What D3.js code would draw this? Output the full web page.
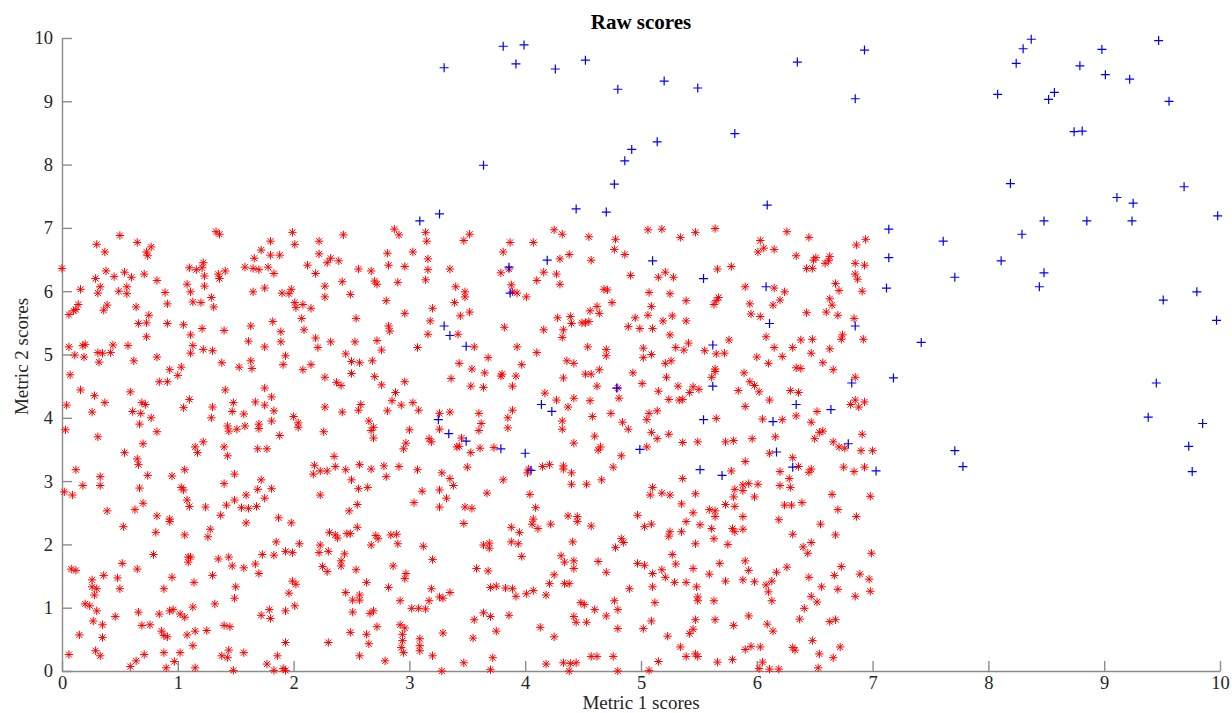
<!DOCTYPE html>
<html>
<head>
<meta charset="utf-8">
<script src="https://cdn.jsdelivr.net/npm/d3@7"></script>
<style>
  html, body { margin: 0; padding: 0; background: #fff; }
  svg { display: block; }
  .axis path, .axis line { stroke: #8c8c8c; stroke-width: 1.4px; }
  .axis text { font-family: "Liberation Serif", "Times New Roman", serif; font-size: 18.5px; fill: #262626; }
  .label { font-family: "Liberation Serif", "Times New Roman", serif; font-size: 19px; fill: #262626; }
  .title { font-family: "Liberation Serif", "Times New Roman", serif; font-size: 21px; font-weight: bold; fill: #000; }
</style>
</head>
<body>
<div id="chart"></div>
<script>
// Tick values for both axes
const xTicks = [0, 1, 2, 3, 4, 5, 6, 7, 8, 9, 10];
const yTicks = [0, 1, 2, 3, 4, 5, 6, 7, 8, 9, 10];

// Scores that fall inside the 0–7 box on both metrics (red asterisks)
const redScores = [
  [1.33,6.94],[1.36,6.90],[1.99,6.93],[0.50,6.88],[0.30,6.74],[0.65,6.77],[1.80,6.79],[2.01,6.74],[2.22,6.79],[0.77,6.70],[0.73,6.62],[0.74,6.56],[0.37,6.62],[1.72,6.65],[1.80,6.57],[1.88,6.57],[2.22,6.59],[1.66,6.52],[0.00,6.36],[1.10,6.37],[1.16,6.34],[1.21,6.37],[1.22,6.45],[1.58,6.38],[1.65,6.36],[1.70,6.34],[1.78,6.38],[1.83,6.28],[2.12,6.41],[0.38,6.32],[0.45,6.23],[0.54,6.30],[0.60,6.22],[0.71,6.27],[0.29,6.20],[0.82,6.17],[1.23,6.24],[1.35,6.27],[1.36,6.20],[1.41,6.32],[2.19,6.28],[1.08,6.11],[1.23,6.08],[0.33,6.07],[0.31,5.97],[0.16,6.03],[0.49,6.00],[0.56,6.07],[0.56,5.96],[0.89,5.98],[1.11,5.99],[1.65,5.99],[1.75,6.05],[1.90,5.97],[1.96,5.96],[1.98,6.03],[2.27,6.08],[2.27,5.91],[1.29,5.90],[0.91,5.80],[1.13,5.83],[1.20,5.82],[1.31,5.75],[2.01,5.82],[2.02,5.74],[2.08,5.79],[2.15,5.73],[0.14,5.79],[0.12,5.71],[0.10,5.69],[0.06,5.63],[0.36,5.70],[0.39,5.78],[0.64,5.75],[0.75,5.62],[2.07,5.57],[0.66,5.49],[0.73,5.50],[0.91,5.49],[1.05,5.47],[1.21,5.41],[1.82,5.52],[1.63,5.45],[1.40,5.38],[1.89,5.36],[2.09,5.39],[1.11,5.31],[0.73,5.28],[1.61,5.21],[1.89,5.20],[2.19,5.26],[0.06,5.12],[0.18,5.14],[0.20,5.16],[0.44,5.15],[0.57,5.14],[1.13,5.14],[1.22,5.08],[1.30,5.06],[1.11,5.02],[1.75,5.12],[2.21,5.11],[0.11,4.99],[0.19,4.96],[0.31,5.03],[0.35,5.02],[0.42,5.03],[0.82,4.96],[1.93,4.98],[0.62,4.90],[0.32,4.88],[1.38,4.87],[1.63,4.90],[1.64,4.78],[1.53,4.80],[1.91,4.84],[2.15,4.84],[2.08,4.76],[0.93,4.76],[1.03,4.80],
  [2.43,6.89],[2.87,6.98],[2.91,6.89],[3.14,6.93],[3.15,6.79],[3.47,6.80],[3.52,6.90],[4.25,6.97],[4.32,6.90],[4.55,6.86],[3.87,6.77],[4.07,6.77],[3.81,6.62],[2.81,6.60],[3.03,6.62],[4.38,6.58],[2.32,6.52],[2.29,6.45],[2.39,6.48],[3.16,6.51],[2.82,6.41],[2.56,6.35],[2.67,6.32],[2.96,6.39],[3.16,6.34],[3.35,6.35],[4.30,6.51],[4.57,6.49],[3.79,6.29],[3.86,6.35],[4.10,6.17],[4.16,6.30],[4.27,6.27],[4.30,6.11],[2.42,6.15],[2.70,6.16],[2.72,6.11],[2.90,6.14],[3.14,6.18],[3.40,6.07],[3.48,5.99],[3.48,5.91],[3.39,5.82],[3.88,6.10],[3.89,5.99],[3.93,5.97],[4.01,5.91],[2.49,5.95],[2.80,5.85],[3.20,5.73],[3.52,5.67],[3.44,5.61],[2.96,5.65],[3.18,5.53],[4.56,5.69],[4.62,5.76],[4.64,5.65],[4.28,5.58],[4.39,5.60],[4.40,5.49],[4.49,5.50],[4.52,5.50],[4.55,5.52],[2.54,5.57],[3.82,5.43],[4.16,5.39],[4.33,5.39],[4.32,5.27],[2.82,5.45],[2.83,5.37],[3.16,5.32],[3.42,5.32],[2.32,5.20],[2.53,5.20],[2.72,5.22],[2.76,5.07],[3.07,5.11],[3.56,5.12],[3.93,5.12],[4.10,5.03],[4.54,5.12],[2.45,5.01],[3.68,4.95],[2.50,4.89],[2.57,4.87],[2.68,4.90],[4.36,4.90],[4.42,4.86],[3.43,4.86],[3.97,4.84],[3.54,4.77],[4.64,4.76],
  [5.06,6.97],[5.18,6.98],[5.34,6.85],[5.47,6.93],[5.64,6.99],[4.78,6.82],[4.77,6.66],[4.86,6.58],[6.26,6.94],[6.45,6.85],[6.03,6.80],[6.06,6.68],[6.01,6.62],[6.15,6.66],[6.86,6.73],[6.94,6.82],[6.34,6.56],[6.51,6.53],[6.49,6.49],[6.63,6.55],[6.62,6.48],[6.59,6.44],[6.85,6.44],[6.93,6.41],[6.43,6.36],[6.48,6.36],[5.66,6.35],[5.78,6.39],[4.91,6.25],[5.15,6.22],[5.21,6.30],[5.28,6.22],[6.85,6.27],[6.87,6.19],[6.68,6.12],[6.71,6.01],[4.68,6.03],[4.71,6.02],[5.90,6.07],[6.15,6.05],[6.24,5.99],[6.91,6.00],[5.07,5.98],[5.25,5.96],[5.67,5.90],[5.65,5.85],[5.63,5.79],[4.75,5.82],[5.39,5.85],[5.94,5.80],[6.14,5.78],[6.20,5.86],[6.63,5.88],[6.65,5.78],[5.09,5.76],[5.06,5.62],[4.95,5.58],[5.27,5.61],[5.95,5.64],[6.03,5.60],[6.43,5.66],[6.60,5.67],[6.70,5.62],[6.84,5.57],[5.19,5.53],[5.39,5.53],[4.89,5.44],[4.99,5.41],[5.10,5.41],[5.25,5.31],[6.08,5.28],[6.74,5.31],[6.73,5.24],[6.92,5.24],[5.76,5.23],[6.38,5.23],[6.48,5.24],[4.70,5.08],[4.70,4.98],[5.02,5.10],[5.02,4.95],[5.09,5.00],[5.30,5.11],[5.37,5.07],[5.41,5.18],[5.55,5.06],[5.65,5.01],[5.72,5.02],[6.15,5.11],[6.31,5.11],[6.47,5.02],[6.63,5.09],[6.00,4.96],[6.22,4.97],[5.21,4.86],[5.26,4.90],[6.10,4.86],[6.34,4.79],[6.38,4.78],[6.57,4.87],[6.66,4.76],[5.64,4.77],
  [0.07,4.68],[1.00,4.67],[0.84,4.57],[0.91,4.57],[2.27,4.64],[0.16,4.44],[0.28,4.35],[0.37,4.24],[0.59,4.41],[1.41,4.44],[1.75,4.47],[1.81,4.33],[0.04,4.20],[0.26,4.09],[0.61,4.10],[0.69,4.24],[0.72,4.21],[0.68,4.07],[1.10,4.29],[1.05,4.16],[1.30,4.17],[1.29,4.00],[1.48,4.24],[1.47,4.10],[1.57,4.06],[1.67,4.25],[1.75,4.20],[1.83,4.11],[2.27,4.17],[0.77,4.00],[0.67,3.90],[0.03,3.81],[0.31,3.70],[0.82,3.78],[1.43,3.87],[1.44,3.79],[1.51,3.82],[1.58,3.87],[1.70,3.90],[1.70,3.83],[1.81,3.95],[2.00,4.02],[2.04,3.92],[2.04,3.85],[1.88,3.72],[2.26,3.78],[1.22,3.62],[1.15,3.54],[1.17,3.45],[1.40,3.54],[1.43,3.40],[1.69,3.51],[1.77,3.51],[0.70,3.59],[0.54,3.45],[0.65,3.35],[0.66,3.26],[0.12,3.18],[2.18,3.25],[2.17,3.11],[2.23,3.16],[2.29,3.16],[1.06,3.18],[0.74,3.09],[0.95,3.08],[0.33,3.07],[0.33,2.93],[0.18,2.93],[1.49,3.11],[1.40,2.96],[1.72,3.02],[0.02,2.83],[0.09,2.78],[0.67,2.89],[1.03,2.90],[1.05,2.86],[1.69,2.87],[1.81,2.88],[1.08,2.70],[1.10,2.60],[0.70,2.65],[1.49,2.70],[1.59,2.78],[1.75,2.73],[2.23,2.78],[1.42,2.62],[1.55,2.58],[1.61,2.57],[1.68,2.60],[1.24,2.59],[0.39,2.53],[0.63,2.55],[0.82,2.45],[0.93,2.40],[1.37,2.46],[1.87,2.42],
  [2.50,4.70],[2.70,4.65],[2.96,4.57],[2.76,4.52],[2.37,4.56],[2.41,4.51],[3.36,4.62],[3.53,4.50],[3.64,4.48],[3.65,4.71],[3.80,4.69],[3.79,4.66],[3.92,4.66],[3.89,4.50],[4.33,4.63],[4.52,4.69],[4.57,4.69],[4.62,4.50],[2.88,4.40],[2.85,4.27],[2.93,4.20],[3.03,4.24],[3.08,4.12],[2.56,4.12],[2.58,4.21],[2.81,4.11],[2.42,4.09],[3.26,4.07],[3.35,4.09],[3.60,4.07],[3.85,4.00],[3.89,4.12],[4.17,4.39],[4.27,4.28],[4.37,4.17],[4.42,4.31],[4.56,4.27],[4.32,3.95],[4.32,3.82],[4.58,4.02],[2.65,3.95],[2.69,3.85],[2.67,3.80],[2.69,3.68],[3.00,3.81],[3.26,3.82],[3.62,3.91],[3.60,3.80],[3.85,3.84],[4.60,3.71],[4.65,3.54],[4.63,3.49],[3.17,3.67],[3.19,3.62],[2.97,3.60],[2.95,3.51],[3.41,3.54],[3.43,3.55],[3.45,3.68],[3.61,3.52],[3.53,3.45],[3.73,3.53],[4.42,3.60],[2.35,3.39],[2.36,3.23],[2.45,3.18],[2.57,3.26],[2.67,3.19],[2.78,3.24],[2.91,3.23],[3.07,3.18],[3.50,3.22],[4.03,3.19],[4.02,3.13],[4.15,3.23],[4.21,3.26],[4.33,3.24],[4.33,3.19],[4.40,3.13],[2.50,3.02],[2.80,3.07],[3.28,3.13],[3.35,3.04],[3.38,2.93],[3.81,3.02],[4.53,2.95],[4.40,2.95],[2.56,2.88],[2.64,2.90],[3.11,2.84],[3.26,2.86],[3.67,2.81],[3.32,2.73],[4.04,2.79],[4.66,3.02],[3.04,2.66],[2.55,2.63],[2.48,2.53],[3.26,2.59],[3.48,2.59],[3.54,2.57],[4.09,2.58],[4.37,2.45],[4.45,2.44],[4.07,2.40],
  [4.93,4.71],[5.01,4.54],[5.22,4.64],[5.32,4.50],[5.15,4.42],[5.42,4.40],[5.45,4.49],[5.50,4.45],[5.61,4.64],[5.64,4.73],[5.24,4.29],[5.33,4.28],[5.36,4.29],[4.81,4.31],[4.80,4.47],[5.89,4.71],[5.94,4.57],[5.98,4.51],[6.02,4.41],[5.84,4.43],[6.11,4.28],[6.29,4.43],[6.36,4.40],[6.85,4.64],[6.81,4.21],[6.85,4.28],[6.93,4.25],[6.88,4.17],[4.74,4.07],[4.84,3.93],[4.89,3.82],[5.07,4.07],[5.05,3.97],[5.14,4.11],[5.90,4.18],[5.65,3.99],[6.05,3.98],[6.22,3.97],[6.34,4.03],[6.52,4.10],[6.47,3.93],[5.09,3.77],[5.14,3.67],[5.24,3.74],[6.54,3.77],[6.57,3.79],[6.91,3.74],[6.16,3.70],[5.96,3.67],[5.80,3.64],[5.73,3.62],[5.49,3.62],[5.36,3.61],[6.50,3.67],[6.66,3.62],[6.71,3.54],[6.76,3.52],[5.05,3.54],[4.83,3.40],[6.11,3.44],[6.31,3.37],[5.90,3.31],[6.90,3.48],[7.00,3.48],[4.76,3.22],[6.36,3.23],[6.47,3.19],[6.45,3.14],[6.20,3.15],[6.28,3.04],[6.75,3.22],[6.84,3.15],[6.93,3.22],[5.78,3.16],[5.36,3.04],[5.93,2.96],[6.01,2.95],[5.88,2.94],[5.81,2.87],[5.88,2.85],[5.80,2.75],[5.10,2.90],[5.08,2.78],[5.18,2.81],[5.25,2.78],[5.47,2.80],[5.98,2.75],[6.20,2.93],[6.29,2.90],[6.65,2.79],[6.98,2.76],[5.35,2.64],[5.73,2.63],[5.81,2.60],[5.59,2.55],[5.64,2.53],[6.24,2.62],[6.30,2.62],[6.39,2.66],[4.97,2.46],[5.45,2.50],[5.64,2.44],[5.88,2.44],[6.19,2.39],[6.70,2.55],[6.86,2.44],
  [0.53,2.28],[0.93,2.36],[1.59,2.34],[1.98,2.34],[0.81,2.19],[1.06,2.15],[1.26,2.12],[1.28,2.24],[1.85,2.04],[2.05,2.01],[2.23,1.99],[2.22,1.87],[0.79,1.84],[1.09,1.80],[1.11,1.80],[1.09,1.72],[1.35,1.77],[1.44,1.80],[1.47,1.66],[1.73,1.84],[1.83,1.83],[1.93,1.89],[1.99,1.87],[0.52,1.70],[0.65,1.61],[0.08,1.61],[0.12,1.59],[1.57,1.63],[1.67,1.69],[1.70,1.54],[2.25,1.65],[2.29,1.57],[0.36,1.51],[0.48,1.47],[0.26,1.44],[0.26,1.33],[0.30,1.30],[0.50,1.30],[0.28,1.20],[0.95,1.48],[1.30,1.51],[1.14,1.40],[1.50,1.33],[1.49,1.15],[0.88,1.30],[1.99,1.42],[2.02,1.37],[1.96,1.23],[0.20,1.06],[0.24,1.03],[0.30,0.95],[1.32,1.06],[1.13,1.01],[0.66,0.93],[0.93,0.95],[0.96,0.97],[1.02,0.90],[1.06,0.85],[0.46,0.86],[0.84,0.90],[1.79,0.97],[1.93,0.95],[2.01,1.03],[1.72,0.88],[1.80,0.83],[0.27,0.79],[0.35,0.73],[0.69,0.72],[0.76,0.73],[0.86,0.63],[0.88,0.56],[0.91,0.54],[1.08,0.57],[1.15,0.63],[1.25,0.64],[1.40,0.72],[1.45,0.70],[0.15,0.57],[0.35,0.53],[1.93,0.45],[1.13,0.40],[0.06,0.26],[0.29,0.32],[0.33,0.24],[0.64,0.16],[0.71,0.26],[0.88,0.29],[1.02,0.29],[0.97,0.15],[1.38,0.24],[1.44,0.33],[1.43,0.21],[1.57,0.29],[1.77,0.11],[1.86,0.24],[0.59,0.07],[0.90,0.05],[1.15,0.05],[1.48,0.01],[1.83,0.01],[1.91,0.04],[1.93,0.01],
  [2.31,2.19],[2.36,2.15],[2.38,2.10],[2.46,2.17],[2.49,2.17],[2.55,2.27],[2.71,2.14],[2.73,2.09],[2.84,2.15],[2.89,2.16],[2.90,2.01],[2.67,1.99],[3.12,1.97],[3.47,2.33],[3.88,2.27],[3.95,2.19],[3.88,2.04],[3.94,2.01],[4.06,2.32],[4.11,2.25],[4.22,2.32],[4.45,2.36],[4.57,2.29],[2.30,1.89],[2.44,1.85],[2.41,1.74],[2.41,1.66],[3.64,1.99],[3.69,2.02],[3.69,1.94],[4.41,2.04],[4.31,1.82],[4.34,1.72],[4.42,1.74],[4.42,1.62],[3.97,1.81],[3.20,1.76],[2.86,1.66],[2.54,1.60],[3.58,1.62],[3.68,1.58],[2.97,1.54],[2.96,1.46],[2.63,1.40],[2.82,1.32],[4.25,1.52],[4.21,1.38],[4.34,1.38],[4.38,1.38],[4.63,1.73],[2.45,1.24],[2.51,1.12],[2.57,1.20],[2.57,1.12],[2.92,1.11],[3.19,1.30],[3.70,1.32],[3.75,1.34],[3.83,1.31],[3.89,1.30],[3.92,1.18],[4.01,1.22],[4.07,1.27],[4.18,1.20],[3.26,1.17],[3.29,1.15],[3.35,1.24],[3.17,1.11],[3.02,0.99],[3.08,0.99],[3.14,0.98],[2.66,0.91],[2.69,0.95],[2.51,0.93],[4.48,1.08],[4.51,1.05],[4.60,0.97],[3.64,0.92],[3.70,0.86],[3.56,0.81],[3.86,0.88],[4.42,0.86],[4.44,0.77],[4.53,0.77],[4.13,0.69],[2.72,0.70],[2.49,0.61],[2.63,0.58],[2.92,0.73],[2.96,0.68],[2.94,0.58],[2.94,0.48],[3.29,0.60],[3.75,0.63],[4.25,0.54],[2.30,0.45],[2.65,0.43],[2.93,0.37],[2.95,0.29],[3.09,0.51],[3.09,0.40],[3.09,0.32],[3.55,0.52],[2.57,0.24],[2.79,0.16],[3.20,0.24],[3.47,0.13],[3.72,0.21],[3.28,0.00],[3.70,0.02],[4.18,0.11],[4.33,0.13],[4.39,0.12],[4.44,0.13],[4.38,0.00],[4.57,0.23],[4.62,0.23],
  [5.03,2.28],[5.09,2.32],[5.25,2.20],[5.24,2.13],[5.35,2.20],[5.39,2.36],[5.51,2.31],[5.61,2.25],[5.63,2.09],[5.79,2.25],[5.81,2.20],[5.88,2.24],[4.83,2.09],[4.85,2.03],[4.78,1.95],[5.75,2.00],[5.47,2.01],[5.27,1.84],[6.31,2.16],[6.55,2.32],[6.68,2.15],[6.40,1.96],[6.47,2.03],[6.44,1.86],[6.99,1.86],[4.70,1.56],[4.97,1.70],[5.03,1.67],[5.10,1.54],[5.18,1.60],[5.21,1.48],[5.30,1.69],[5.45,1.62],[5.59,1.53],[5.68,1.70],[5.90,1.74],[5.93,1.59],[5.29,1.40],[5.39,1.40],[5.48,1.33],[5.73,1.42],[5.88,1.44],[5.98,1.41],[6.08,1.36],[6.13,1.42],[6.17,1.56],[6.26,1.64],[6.10,1.25],[6.13,1.11],[6.45,1.48],[6.56,1.33],[6.67,1.51],[6.73,1.65],[6.70,1.29],[6.89,1.53],[6.97,1.45],[6.98,1.26],[6.85,1.18],[4.90,1.30],[5.10,1.33],[5.12,1.08],[5.49,1.17],[5.49,1.11],[5.63,1.11],[4.77,1.11],[4.80,0.97],[4.70,0.87],[6.47,1.18],[6.52,1.09],[6.41,0.99],[5.93,0.87],[5.47,0.81],[5.64,0.81],[5.80,0.72],[5.09,0.79],[5.02,0.67],[4.80,0.67],[6.09,0.74],[6.14,0.63],[6.37,0.82],[6.63,0.78],[6.68,0.81],[5.23,0.55],[5.42,0.59],[5.45,0.66],[6.48,0.48],[6.72,0.38],[5.34,0.38],[5.39,0.23],[5.47,0.27],[5.49,0.23],[5.90,0.34],[5.95,0.39],[6.03,0.38],[6.31,0.37],[6.33,0.33],[6.54,0.27],[6.66,0.21],[4.76,0.23],[5.66,0.14],[5.79,0.18],[5.15,0.15],[5.07,0.01],[4.80,0.00],[6.05,0.14],[6.02,0.04],[6.11,0.03],[6.19,0.03],[6.53,0.05]
];

// Scores outside that box (blue plus signs)
const blueScores = [
  [3.30,9.53],[3.81,9.87],[3.92,9.59],[3.99,9.89],[4.26,9.51],[4.52,9.65],[4.80,9.19],[5.20,9.32],[5.49,9.21],[6.35,9.62],[6.85,9.04],[6.93,9.81],[3.64,7.99],[5.81,8.49],[5.14,8.36],[4.92,8.24],[4.86,8.06],[4.77,7.69],[3.09,7.11],[3.26,7.22],[4.44,7.30],[4.70,7.25],[6.09,7.36],[7.14,6.98],
  [8.37,9.98],[8.30,9.83],[8.24,9.60],[8.08,9.11],[8.57,9.14],[8.52,9.03],[8.79,9.56],[8.98,9.82],[9.01,9.42],[9.22,9.35],[9.47,9.96],[9.56,9.00],[8.74,8.52],[8.81,8.53],[8.19,7.70],[9.69,7.65],[9.11,7.48],[9.25,7.39],[9.98,7.19],[8.48,7.11],[8.85,7.11],[9.24,7.11],[8.29,6.90],[7.61,6.79],[7.14,6.53],[8.11,6.48],[7.71,6.22],[8.48,6.29],[8.44,6.07],[7.12,6.05],[9.51,5.86],[9.80,5.99],[9.97,5.54],[7.42,5.19],[7.18,4.63],[9.45,4.55],[9.38,4.01],[9.85,3.91],[9.73,3.55],[9.76,3.15],[7.71,3.48],[7.78,3.23],[7.03,3.16],
  [3.86,6.38],[3.87,5.97],[4.19,6.49],[3.30,5.45],[3.35,5.30],[3.49,5.13],
  [5.10,6.48],[5.54,6.20],[6.08,6.07],[6.11,5.49],[6.85,5.45],[5.62,5.15],
  [3.25,3.97],[3.34,3.75],[3.49,3.63],[3.79,3.51],[4.00,3.44],[4.05,3.17],[4.14,4.21],[4.23,4.10],
  [4.79,4.47],[5.62,4.50],[6.82,4.55],[6.34,4.21],[6.64,4.13],[5.54,3.97],[6.14,3.94],[4.99,3.50],[6.17,3.46],[6.79,3.59],[5.51,3.18],[5.70,3.09],[6.31,3.22]
];

const W = 1232, H = 713;
const margin = { top: 38, right: 12, bottom: 42, left: 62 };
const width = W - margin.left - margin.right;
const height = H - margin.top - margin.bottom;

const svg = d3.select("#chart").append("svg")
  .attr("width", W).attr("height", H);

const g = svg.append("g")
  .attr("transform", `translate(${margin.left},${margin.top})`);

const x = d3.scaleLinear().domain([0, 10]).range([0, width]);
const y = d3.scaleLinear().domain([0, 10]).range([height, 0]);

// Axes with inward-pointing ticks
g.append("g")
  .attr("class", "axis")
  .attr("transform", `translate(0,${height})`)
  .call(d3.axisBottom(x).tickValues(xTicks).tickFormat(d3.format("d"))
    .tickSizeInner(-10).tickSizeOuter(0).tickPadding(5));

g.append("g")
  .attr("class", "axis")
  .call(d3.axisLeft(y).tickValues(yTicks).tickFormat(d3.format("d"))
    .tickSizeInner(-10).tickSizeOuter(0).tickPadding(9));

// Red asterisk markers: a plus and a cross overlaid
const aR = 4.2, dR = aR * 0.72;
const asterisk = `M${-aR},0H${aR}M0,${-aR}V${aR}M${-dR},${-dR}L${dR},${dR}M${-dR},${dR}L${dR},${-dR}`;
g.append("g").selectAll("path")
  .data(redScores)
  .join("path")
  .attr("transform", d => `translate(${x(d[0])},${y(d[1])})`)
  .attr("d", asterisk)
  .attr("fill", "none")
  .attr("stroke", "#ff0000")
  .attr("stroke-width", 1);

// Blue plus markers
const aB = 4.5;
const plus = `M${-aB},0H${aB}M0,${-aB}V${aB}`;
g.append("g").selectAll("path")
  .data(blueScores)
  .join("path")
  .attr("transform", d => `translate(${x(d[0])},${y(d[1])})`)
  .attr("d", plus)
  .attr("fill", "none")
  .attr("stroke", "#0000ff")
  .attr("stroke-width", 1.2);

// Title and axis labels
svg.append("text").attr("class", "title")
  .attr("x", margin.left + width / 2).attr("y", 29)
  .attr("text-anchor", "middle").text("Raw scores");

svg.append("text").attr("class", "label")
  .attr("x", margin.left + width / 2).attr("y", 709)
  .attr("text-anchor", "middle").text("Metric 1 scores");

svg.append("text").attr("class", "label")
  .attr("transform", `translate(28,${margin.top + height / 2 + 2}) rotate(-90)`)
  .attr("text-anchor", "middle").text("Metric 2 scores");
</script>
</body>
</html>
